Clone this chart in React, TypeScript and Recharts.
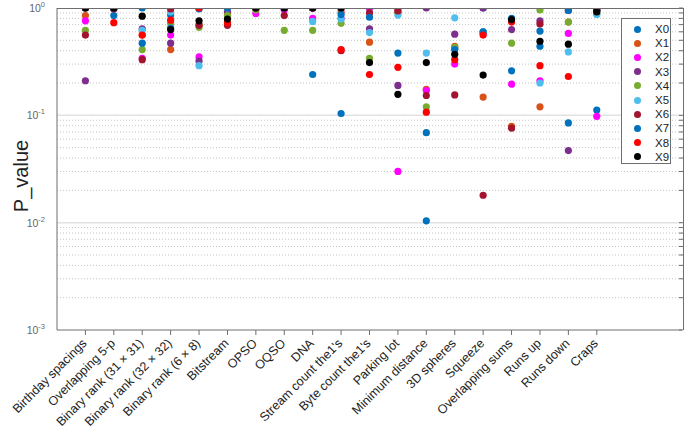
import React from 'react';
import { ScatterChart, Scatter, XAxis, YAxis, ReferenceLine } from 'recharts';

const categories = [
  'Birthday spacings', 'Overlapping 5-p', 'Binary rank (31 × 31)', 'Binary rank (32 × 32)',
  'Binary rank (6 × 8)', 'Bitstream', 'OPSO', 'OQSO', 'DNA', "Stream count the1's",
  "Byte count the1's", 'Parking lot', 'Minimum distance', '3D spheres', 'Squeeze',
  'Overlapping sums', 'Runs up', 'Runs down', 'Craps',
];

const seriesNames = ['X0', 'X1', 'X2', 'X3', 'X4', 'X5', 'X6', 'X7', 'X8', 'X9'];
const seriesColors = ['#0072BD', '#D95319', '#FF00FF', '#7E2F8E', '#77AC30', '#4DBEEE', '#A2142F', '#0072BD', '#FF0000', '#000000'];

const X0 = [1, 0.85, 1, 0.86, 1, 1, 1, 1, 0.24, 0.104, 1, 1, 0.069, 0.42, 1, 0.8, 0.61, 0.085, 0.112];
const X1 = [0.85, 1, 0.56, 0.41, 0.7, 0.9, 1, 1, 1, 0.92, 0.48, 0.93, 0.175, 0.44, 0.148, 0.079, 0.12, 0.74, 0.95];
const X2 = [0.76, 1, 0.34, 0.56, 0.35, 1, 0.89, 0.96, 0.8, 0.8, 1, 0.03, 0.17, 0.3, 0.58, 0.195, 0.21, 0.58, 0.098];
const X3 = [0.21, 1, 0.64, 0.47, 0.32, 0.94, 1, 1, 1, 1, 0.64, 0.19, 1, 0.57, 1, 0.63, 0.76, 0.047, 0.95];
const X4 = [0.62, 1, 0.41, 0.72, 0.66, 0.85, 0.96, 0.62, 0.62, 0.72, 0.34, 0.9, 0.12, 0.43, 0.6, 0.47, 0.96, 0.74, 0.88];
const X5 = [1, 1, 0.62, 0.92, 0.29, 1, 1, 1, 0.75, 0.79, 0.59, 0.86, 0.38, 0.81, 0.6, 0.76, 0.2, 0.39, 0.87];
const X6 = [0.56, 0.98, 0.33, 0.98, 0.69, 0.69, 1, 0.85, 1, 0.4, 0.9, 0.94, 0.153, 0.155, 0.018, 0.076, 0.71, 0.95, 0.97];
const X7 = [1, 1, 0.47, 0.65, 0.98, 1, 1, 1, 1, 0.87, 0.82, 0.38, 0.0104, 0.41, 0.6, 0.26, 0.44, 0.95, 0.95];
const X8 = [1, 0.73, 0.56, 0.77, 1, 0.73, 1, 1, 1, 0.41, 0.24, 0.28, 0.107, 0.33, 0.56, 0.74, 0.29, 0.23, 1];
const X9 = [1, 1, 0.84, 0.63, 0.76, 0.79, 1, 1, 1, 1, 0.31, 0.157, 0.31, 0.37, 0.237, 0.78, 0.49, 0.46, 0.92];

const seriesValues = [X0, X1, X2, X3, X4, X5, X6, X7, X8, X9];

const majorTicks = [0.001, 0.01, 0.1, 1];
const minorTicks = [2, 3, 4, 5, 6, 7, 8, 9].flatMap((m) => [m * 0.001, m * 0.01, m * 0.1]);
const xTicks = categories.map((_, i) => i + 1);

const AXIS = '#6e6e6e';
const FONT = '"Liberation Sans", Arial, sans-serif';

// plot box in pixels (chart margins + axis sizes)
const BOX = { left: 57, top: 8, right: 683, bottom: 330 };

const XTick = (props: any) => {
  const { x, y, payload } = props;
  const label = categories[payload.value - 1] ?? '';
  return (
    <g transform={`translate(${x + 2},${y + 7})`}>
      <text textAnchor="end" transform="rotate(-45)" fontSize={12.5} fontFamily={FONT} fill="#222">
        {label}
      </text>
    </g>
  );
};

const YTick = (props: any) => {
  const { x, y, payload } = props;
  const exp = Math.round(Math.log10(payload.value));
  return (
    <text x={x - 4} y={y + 4} textAnchor="end" fontSize={10.5} fontFamily={FONT} fill="#666">
      10<tspan dy={-5} fontSize={7.5}>{exp}</tspan>
    </text>
  );
};

// top/right box ticks point inward
const TopTick = (props: any) => (
  <line x1={props.x} x2={props.x} y1={BOX.top} y2={BOX.top + 5} stroke={AXIS} />
);
const RightTick = (props: any) => (
  <line x1={BOX.right - 4} x2={BOX.right} y1={props.y} y2={props.y} stroke={AXIS} />
);

const dot = (color: string) => (props: any) => (
  <circle cx={props.cx} cy={props.cy} r={3.6} fill={color} />
);

const nothing = () => <g />;

export default function App() {
  return (
    <div style={{ position: 'absolute', left: 0, top: 0, width: 685, height: 430, background: '#fff' }}>
      <ScatterChart width={685} height={430} margin={{ top: 8, right: 2, bottom: 0, left: 0 }}>
        <XAxis
          dataKey="x"
          type="number"
          domain={[0, 22]}
          ticks={xTicks}
          interval={0}
          height={100}
          tickSize={5}
          stroke={AXIS}
          tick={<XTick />}
          allowDataOverflow
        />
        <XAxis
          xAxisId="top"
          dataKey="x"
          orientation="top"
          type="number"
          domain={[0, 22]}
          ticks={xTicks}
          interval={0}
          height={0}
          tickLine={false}
          axisLine={false}
          tick={<TopTick />}
          allowDataOverflow
        />
        <YAxis
          dataKey="y"
          type="number"
          scale="log"
          domain={[0.001, 1]}
          ticks={majorTicks}
          interval={0}
          width={57}
          tickLine={false}
          stroke={AXIS}
          tick={<YTick />}
          allowDataOverflow
        />
        <YAxis
          yAxisId="right"
          dataKey="y"
          orientation="right"
          type="number"
          scale="log"
          domain={[0.001, 1]}
          ticks={[...minorTicks, ...majorTicks]}
          interval={0}
          width={1}
          tickLine={false}
          axisLine={false}
          tick={<RightTick />}
          allowDataOverflow
        />
        {minorTicks.map((v) => (
          <ReferenceLine key={`m${v}`} y={v} stroke="#c4c4c4" strokeDasharray="1 2" />
        ))}
        {[0.01, 0.1].map((v) => (
          <ReferenceLine key={`M${v}`} y={v} stroke="#e2e2e2" strokeWidth={1.5} />
        ))}
        {/* carries the top / right axes so their ticks get drawn */}
        <Scatter
          xAxisId="top"
          yAxisId="right"
          data={X0.map((v, i) => ({ x: i + 1, y: v }))}
          shape={nothing}
          legendType="none"
          isAnimationActive={false}
        />
        {seriesValues.map((vals, s) => (
          <Scatter
            key={seriesNames[s]}
            name={seriesNames[s]}
            data={vals.map((v, i) => ({ x: i + 1, y: v }))}
            fill={seriesColors[s]}
            shape={dot(seriesColors[s])}
            isAnimationActive={false}
          />
        ))}
      </ScatterChart>
      {/* top and right edges of the axes box */}
      <div
        style={{
          position: 'absolute',
          left: BOX.left,
          top: BOX.top,
          width: BOX.right - BOX.left + 1,
          height: BOX.bottom - BOX.top,
          borderTop: `1px solid ${AXIS}`,
          borderRight: `1px solid ${AXIS}`,
          boxSizing: 'border-box',
          pointerEvents: 'none',
        }}
      />
      <div
        style={{
          position: 'absolute',
          left: 21,
          top: 176,
          transform: 'translate(-50%, -50%) rotate(-90deg)',
          fontFamily: FONT,
          fontSize: 20,
          color: '#222',
          whiteSpace: 'nowrap',
        }}
      >
        P_value
      </div>
      <div
        style={{
          position: 'absolute',
          left: 621,
          top: 18,
          width: 48,
          height: 144,
          border: `1px solid ${AXIS}`,
          background: '#fff',
          fontFamily: FONT,
          fontSize: 11.5,
          color: '#222',
        }}
      >
        {seriesNames.map((n, i) => (
          <div key={n} style={{ position: 'absolute', top: 3 + i * 14.2, left: 0, height: 14, width: 48, display: 'flex', alignItems: 'center' }}>
            <span style={{ display: 'inline-block', width: 7, height: 7, borderRadius: '50%', background: seriesColors[i], marginLeft: 12 }} />
            <span style={{ marginLeft: 14 }}>{n}</span>
          </div>
        ))}
      </div>
    </div>
  );
}
